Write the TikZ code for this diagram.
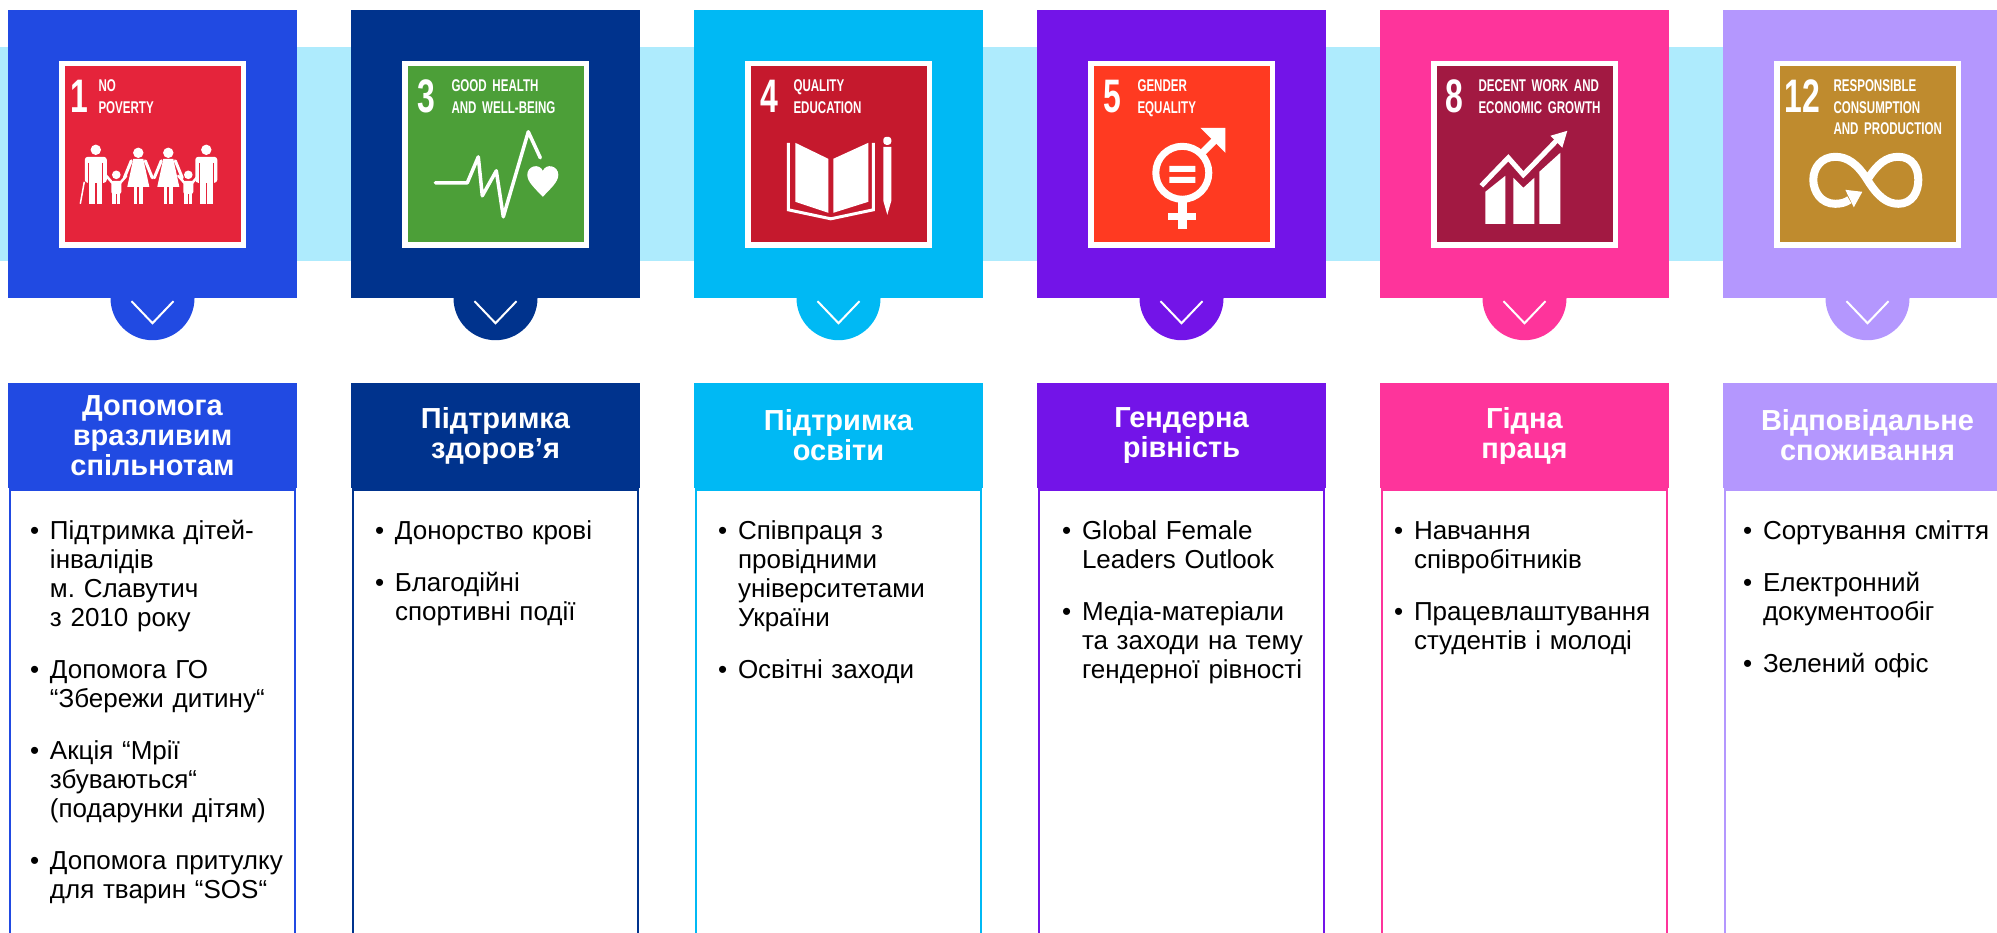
\documentclass[tikz,border=0pt]{standalone}
\usepackage{fontspec}
\setmainfont{Liberation Sans}
\newfontfamily\sdgfont[FakeStretch=0.68]{Liberation Sans}
\usetikzlibrary{positioning, calc}
\frenchspacing

\definecolor{band}{HTML}{AEEBFD}
\definecolor{col1}{HTML}{214AE2}
\definecolor{col2}{HTML}{00338D}
\definecolor{col3}{HTML}{00B9F4}
\definecolor{col4}{HTML}{7314E8}
\definecolor{col5}{HTML}{FE349B}
\definecolor{col6}{HTML}{B497FE}
\definecolor{sdg1}{HTML}{E5243B}
\definecolor{sdg3}{HTML}{4C9F38}
\definecolor{sdg4}{HTML}{C5192D}
\definecolor{sdg5}{HTML}{FF3A21}
\definecolor{sdg8}{HTML}{A21942}
\definecolor{sdg12}{HTML}{BF8B2E}

\newcommand{\bitem}[1]{{\let\\\newline\noindent\hangindent=20pt\hangafter=1\makebox[20pt][l]{\textbullet}#1\par}\vspace{23pt}}

\begin{document}
\begin{tikzpicture}[x=1pt, y=-1pt,
	topbox/.style={minimum width=289pt, minimum height=288pt, inner sep=0pt},
	sdgframe/.style={fill=white, minimum size=187pt, inner sep=0pt},
	sdgsquare/.style={minimum size=176pt, inner sep=0pt},
	sdgnum/.style={anchor=base west, inner sep=0pt, text=white, font=\sdgfont\bfseries\fontsize{47}{47}\selectfont},
	sdgtitle/.style={anchor=base west, inner sep=0pt, text=white, text width=150pt, align=left, font=\sdgfont\bfseries\fontsize{17}{21.5}\selectfont},
	headbox/.style={minimum width=289pt, minimum height=105pt, inner sep=0pt, text=white, align=center, font=\bfseries\fontsize{29}{30}\selectfont},
	bodybox/.style={line width=2.5pt, fill=white, minimum width=285pt, minimum height=470pt, inner sep=0pt},
	bullets/.style={anchor=base west, inner sep=0pt, text width=300pt, font=\fontsize{26}{29}\selectfont},
	chev/.style={white, line width=2pt},
	icon/.style={white},
	man/.pic={
		\fill[white] (0,0) circle (5.2);
		\fill[white, rounded corners=3pt] (-11,7) rectangle (11,33);
		\fill[white] (-6.5,30) rectangle (-0.8,54);
		\fill[white] (0.8,30) rectangle (6.5,54);
		\draw[sdg1, line width=1.2pt] (-7,13) -- (-7,34) (7,13) -- (7,34);
	},
	woman/.pic={
		\fill[white] (0,0) circle (5.2);
		\fill[white] (-5,6) -- (5,6) -- (11,34) -- (-11,34) -- cycle;
		\fill[white] (-4.8,33) rectangle (-1,51);
		\fill[white] (1,33) rectangle (4.8,51);
		\draw[white, line width=3pt, line cap=round] (-7,8) -- (-14,25) (7,8) -- (14,25);
	},
	kid/.pic={
		\fill[white] (0,0) circle (4.3);
		\fill[white, rounded corners=2pt] (-5,6) rectangle (5,19);
		\fill[white] (-4,17) rectangle (-0.8,29);
		\fill[white] (0.8,17) rectangle (4,29);
		\draw[white, line width=2.5pt, line cap=round] (-4,8) -- (-10,1) (4,8) -- (10,1);
	}]
	\useasboundingbox (0,0) rectangle (1997,932);
	\fill[band] (0,47) rectangle (1997,261);

	\node[topbox, fill=col1] at(152.5,154) (top1) {};
	\fill[col1] (top1.south) circle (42);
	\draw[chev] ($(top1.south)+(-21,3)$) -- ($(top1.south)+(0,25)$) -- ($(top1.south)+(21,3)$);
	\node[sdgframe] at(top1.center) (frame1) {};
	\node[sdgsquare, fill=sdg1] at(top1.center) (sq1) {};
	\begin{scope}[shift={(sq1.north west)}]
		\node[sdgnum] at(6.4,47) (num1) {1};
		\node[sdgtitle] at(34,26) (title1) {NO\\POVERTY};
		\pic at(31.5,84) {man};
		\pic at(52,109) {kid};
		\pic at(74,87) {woman};
		\pic at(104,87) {woman};
		\pic at(124,109) {kid};
		\pic at(142,84) {man};
		\draw[icon, line width=1.5pt] (20,116) -- (16,138);
	\end{scope}
	\node[headbox, fill=col1] at(152.5,435.5) (head1) {Допомога\\вразливим\\спільнотам};
	\node[bodybox, draw=col1, below=0pt of head1] (body1) {};
	\node[bullets] at($(head1.south west)+(22,51)$) (list1) {\bitem{Підтримка дітей-\\інвалідів\\м. Славутич\\з 2010 року}\bitem{Допомога ГО\\“Збережи дитину“}\bitem{Акція “Мрії\\збуваються“\\(подарунки дітям)}\bitem{Допомога притулку\\для тварин “SOS“}};

	\node[topbox, fill=col2] at(495.5,154) (top2) {};
	\fill[col2] (top2.south) circle (42);
	\draw[chev] ($(top2.south)+(-21,3)$) -- ($(top2.south)+(0,25)$) -- ($(top2.south)+(21,3)$);
	\node[sdgframe] at(top2.center) (frame2) {};
	\node[sdgsquare, fill=sdg3] at(top2.center) (sq2) {};
	\begin{scope}[shift={(sq2.north west)}]
		\node[sdgnum] at(10,47) (num2) {3};
		\node[sdgtitle] at(44,26) (title2) {GOOD HEALTH\\AND WELL-BEING};
		\draw[icon, line width=3.5pt, line join=round, line cap=round] (28,117) -- (60,117) -- (71,91) -- (75,130) -- (89,105) -- (96,151) -- (121,66) -- (133,92);
		\fill[icon] (135.5,131) .. controls (127,122) and (120,116) .. (120,109) .. controls (120,100) and (132,97) .. (135.5,105) .. controls (139,97) and (151,100) .. (151,109) .. controls (151,116) and (144,122) .. (135.5,131) -- cycle;
	\end{scope}
	\node[headbox, fill=col2] at(495.5,435.5) (head2) {Підтримка\\здоров’я};
	\node[bodybox, draw=col2, below=0pt of head2] (body2) {};
	\node[bullets] at($(head2.south west)+(24,51)$) (list2) {\bitem{Донорство крові}\bitem{Благодійні\\спортивні події}};

	\node[topbox, fill=col3] at(838.5,154) (top3) {};
	\fill[col3] (top3.south) circle (42);
	\draw[chev] ($(top3.south)+(-21,3)$) -- ($(top3.south)+(0,25)$) -- ($(top3.south)+(21,3)$);
	\node[sdgframe] at(top3.center) (frame3) {};
	\node[sdgsquare, fill=sdg4] at(top3.center) (sq3) {};
	\begin{scope}[shift={(sq3.north west)}]
		\node[sdgnum] at(10,47) (num3) {4};
		\node[sdgtitle] at(43,26) (title3) {QUALITY\\EDUCATION};
		\fill[icon] (45,77) -- (78,93) -- (78,147) -- (45,136) -- cycle;
		\fill[icon] (83,93) -- (118,77) -- (118,136) -- (83,147) -- cycle;
		\draw[icon, line width=3pt] (38,77) -- (38,144) -- (80.5,153) -- (123,144) -- (123,77);
		\fill[icon] (133,81) -- (133,135) -- (137,149) -- (141,135) -- (141,81) -- cycle;
		\fill[icon, rounded corners=3pt] (133,71) rectangle (141,79);
	\end{scope}
	\node[headbox, fill=col3] at(838.5,435.5) (head3) {Підтримка\\освіти};
	\node[bodybox, draw=col3, below=0pt of head3] (body3) {};
	\node[bullets] at($(head3.south west)+(24,51)$) (list3) {\bitem{Співпраця з\\провідними\\університетами\\України}\bitem{Освітні заходи}};

	\node[topbox, fill=col4] at(1181.5,154) (top4) {};
	\fill[col4] (top4.south) circle (42);
	\draw[chev] ($(top4.south)+(-21,3)$) -- ($(top4.south)+(0,25)$) -- ($(top4.south)+(21,3)$);
	\node[sdgframe] at(top4.center) (frame4) {};
	\node[sdgsquare, fill=sdg5] at(top4.center) (sq4) {};
	\begin{scope}[shift={(sq4.north west)}]
		\node[sdgnum] at(10,47) (num4) {5};
		\node[sdgtitle] at(44,26) (title4) {GENDER\\EQUALITY};
		\draw[icon, line width=7pt] (89,107) circle (26.5);
		\fill[icon] (76,100) rectangle (102,106) (76,111) rectangle (102,117);
		\fill[icon] (85,133) rectangle (94,163);
		\fill[icon] (75,147) rectangle (103,154);
		\draw[icon, line width=7pt] (106,90) -- (124,72);
		\fill[icon] (107,62) -- (132,62) -- (132,87) -- cycle;
	\end{scope}
	\node[headbox, fill=col4] at(1181.5,435.5) (head4) {Гендерна\\рівність};
	\node[bodybox, draw=col4, below=0pt of head4] (body4) {};
	\node[bullets] at($(head4.south west)+(25,51)$) (list4) {\bitem{Global Female\\Leaders Outlook}\bitem{Медіа-матеріали\\та заходи на тему\\гендерної рівності}};

	\node[topbox, fill=col5] at(1524.5,154) (top5) {};
	\fill[col5] (top5.south) circle (42);
	\draw[chev] ($(top5.south)+(-21,3)$) -- ($(top5.south)+(0,25)$) -- ($(top5.south)+(21,3)$);
	\node[sdgframe] at(top5.center) (frame5) {};
	\node[sdgsquare, fill=sdg8] at(top5.center) (sq5) {};
	\begin{scope}[shift={(sq5.north west)}]
		\node[sdgnum] at(9,47) (num5) {8};
		\node[sdgtitle] at(42,26) (title5) {DECENT WORK AND\\ECONOMIC GROWTH};
		\fill[icon] (49,158) -- (49,126) -- (69,110) -- (69,158) -- cycle;
		\fill[icon] (77,158) -- (77,112) -- (87,122) -- (98,112) -- (98,158) -- cycle;
		\fill[icon] (103,158) -- (103,106) -- (124,87) -- (124,158) -- cycle;
		\draw[icon, line width=5pt] (45,120) -- (72,92) -- (87,109) -- (121,74);
		\fill[icon] (131,65) -- (126,82) -- (114,70) -- cycle;
	\end{scope}
	\node[headbox, fill=col5] at(1524.5,435.5) (head5) {Гідна\\праця};
	\node[bodybox, draw=col5, below=0pt of head5] (body5) {};
	\node[bullets] at($(head5.south west)+(14,51)$) (list5) {\bitem{Навчання\\співробітників}\bitem{Працевлаштування\\студентів і молоді}};

	\node[topbox, fill=col6] at(1867.5,154) (top6) {};
	\fill[col6] (top6.south) circle (42);
	\draw[chev] ($(top6.south)+(-21,3)$) -- ($(top6.south)+(0,25)$) -- ($(top6.south)+(21,3)$);
	\node[sdgframe] at(top6.center) (frame6) {};
	\node[sdgsquare, fill=sdg12] at(top6.center) (sq6) {};
	\begin{scope}[shift={(sq6.north west)}]
		\node[sdgnum] at(5,47) (num6) {12};
		\node[sdgtitle] at(54,26) (title6) {RESPONSIBLE\\CONSUMPTION\\AND PRODUCTION};
		\draw[icon, line width=8pt] (88,114) .. controls (98,98) and (107,91) .. (119,91) .. controls (133,91) and (139,102) .. (139,114) .. controls (139,126) and (133,138) .. (119,138) .. controls (107,138) and (98,130) .. (88,114) .. controls (78,98) and (68,91) .. (56,91) .. controls (42,91) and (34,102) .. (34,114) .. controls (34,126) and (42,138) .. (56,138) .. controls (61,138) and (66,137) .. (70,134);
		\fill[icon] (83,126) -- (74.5,141.5) -- (66,124) -- cycle;
	\end{scope}
	\node[headbox, fill=col6] at(1867.5,435.5) (head6) {Відповідальне\\споживання};
	\node[bodybox, draw=col6, below=0pt of head6] (body6) {};
	\node[bullets] at($(head6.south west)+(20,51)$) (list6) {\bitem{Сортування сміття}\bitem{Електронний\\документообіг}\bitem{Зелений офіс}};
\end{tikzpicture}
\end{document}
